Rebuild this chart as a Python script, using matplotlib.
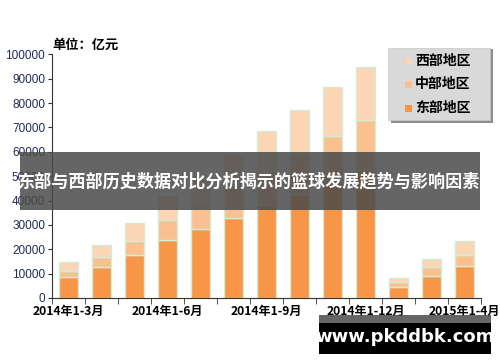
import matplotlib
matplotlib.use("Agg")
import matplotlib.pyplot as plt
from matplotlib.patches import Rectangle
import numpy as np

plt.rcParams['font.family'] = ['Noto Sans CJK SC', 'DejaVu Sans']

categories = ["2014年1-3月", "2014年1-4月", "2014年1-5月", "2014年1-6月", "2014年1-7月",
              "2014年1-8月", "2014年1-9月", "2014年1-10月", "2014年1-11月", "2014年1-12月",
              "2015年1-2月", "2015年1-3月", "2015年1-4月"]
east_top = [8500, 12600, 17600, 23900, 28400, 33000, 38300, 42800, 47700, 52700, 4700, 9200, 13300]
central_top = [11200, 16700, 23600, 32100, 39000, 45500, 52300, 59300, 66400, 73200, 6500, 12600, 17800]
total = [14900, 21800, 30700, 42000, 50200, 58800, 68700, 77300, 86700, 95000, 8100, 16000, 23200]
shown_labels = {0: "2014年1-3月", 3: "2014年1-6月", 6: "2014年1-9月", 9: "2014年1-12月", 12: "2015年1-4月"}
series_names = ["西部地区", "中部地区", "东部地区"]

east = np.array(east_top)
central = np.array(central_top) - east
west = np.array(total) - np.array(central_top)

c_east, c_central, c_west = "#F79646", "#FAC090", "#FCD5B5"
edge = "#d3ecd6"

fig = plt.figure(figsize=(5.0, 3.62), dpi=100)
ax = fig.add_axes([0.104, 0.1768, 0.858, 0.673])
x = np.arange(len(categories))
w = 0.58
ax.bar(x, east, w, color=c_east, edgecolor=edge, linewidth=1, label=series_names[2])
ax.bar(x, central, w, bottom=east, color=c_central, edgecolor=edge, linewidth=1, label=series_names[1])
ax.bar(x, west, w, bottom=east + central, color=c_west, edgecolor=edge, linewidth=1, label=series_names[0])

ax.set_xlim(-0.5, len(categories) - 0.5)
ax.set_ylim(0, 100000)
ax.set_yticks(np.arange(0, 100001, 10000))
ax.set_yticklabels([str(v) for v in range(0, 100001, 10000)], fontsize=8.5,
                   color="#1f2a55", family=['Liberation Sans', 'DejaVu Sans'])
ax.set_xticks(list(shown_labels.keys()))
ax.set_xticklabels(list(shown_labels.values()), fontsize=8.7, fontweight='bold', color='black')
ax.set_xticks(np.arange(-0.5, len(categories), 1), minor=True)
ax.tick_params(axis='x', which='major', length=0, pad=5)
ax.tick_params(axis='x', which='minor', length=4, direction='out', color='#333333')
ax.tick_params(axis='y', length=3, direction='out', color='#333333', pad=2)
for s in ['top', 'right']:
    ax.spines[s].set_visible(False)
ax.spines['left'].set_color('#333333')
ax.spines['bottom'].set_color('#333333')

fig.text(0.104, 0.875, "单位：亿元", fontsize=9.5, fontweight='bold', color='black', va='center')

# legend box with shadow
shadow = Rectangle((0.782, 0.66), 0.204, 0.205, transform=fig.transFigure, facecolor='#8c8c8c',
                   edgecolor='none', zorder=4)
box = Rectangle((0.776, 0.668), 0.204, 0.2, transform=fig.transFigure, facecolor='#d9d9d9',
                edgecolor='#c8c8c8', linewidth=0.5, zorder=5)
fig.patches.extend([shadow, box])
leg_items = [(series_names[0], c_west), (series_names[1], c_central), (series_names[2], c_east)]
for i, (name, col) in enumerate(leg_items):
    yy = 0.833 - i * 0.066
    fig.patches.append(Rectangle((0.81, yy - 0.01), 0.013, 0.018, transform=fig.transFigure,
                                 facecolor=col, edgecolor='none', zorder=6))
    fig.text(0.83, yy, name, fontsize=10, fontweight='bold', color='black', va='center', zorder=7)

# banner overlay
fig.patches.append(Rectangle((0.04, 0.42), 0.92, 0.16, transform=fig.transFigure,
                             facecolor='#4a4a4a', alpha=0.85, edgecolor='none', zorder=10))
fig.text(0.498, 0.5, "东部与西部历史数据对比分析揭示的篮球发展趋势与影响因素", fontsize=12.3,
         fontweight='bold', color='white', ha='center', va='center', zorder=11)

# watermark
fig.patches.append(Rectangle((0.638, 0.022), 0.344, 0.085, transform=fig.transFigure,
                             facecolor='black', edgecolor='none', zorder=10))
fig.patches.append(Rectangle((0.638, 0.107), 0.344, 0.023, transform=fig.transFigure,
                             facecolor='#4a4a4a', alpha=0.85, edgecolor='none', zorder=10))
fig.text(0.81, 0.068, "www.pkddbk.com", fontsize=13, fontweight='bold', color='white',
         ha='center', va='center', family=['DejaVu Sans'], zorder=11)

fig.savefig("out.png", dpi=100)
